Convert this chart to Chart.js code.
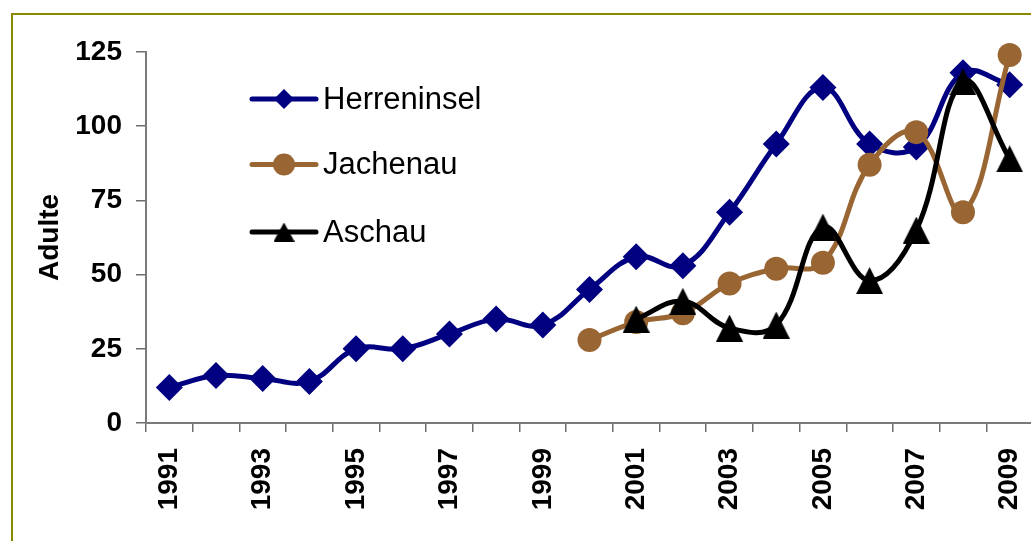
<!DOCTYPE html>
<html>
<head>
<meta charset="utf-8">
<script src="https://cdn.jsdelivr.net/npm/chart.js@4/dist/chart.umd.min.js"></script>
<style>
  html, body { margin: 0; padding: 0; background: #fff; overflow: hidden; }
  #wrap { position: relative; width: 1040px; height: 541px; }
  #frame { position: absolute; left: 11px; top: 13px; width: 2000px; height: 2000px;
           border: 2px solid #8a8a00; box-sizing: border-box; pointer-events: none; }
  canvas { position: absolute; left: 0; top: 0; }
</style>
</head>
<body>
<div id="wrap">
  <div id="frame"></div>
  <canvas id="c" width="1040" height="541"></canvas>
</div>
<script>
// Years on the category axis
const years = ['1991','1992','1993','1994','1995','1996','1997','1998','1999','2000',
               '2001','2002','2003','2004','2005','2006','2007','2008','2009'];

// Adult counts per site (null = not surveyed)
const herreninsel = [12, 16, 15, 14, 25, 25, 30, 35, 33, 45, 56, 53, 71, 94, 113, 94, 93, 118, 114];
const jachenau    = [null, null, null, null, null, null, null, null, null, 28, 34, 37, 47, 52, 54, 87, 98, 71, 124];
const aschau      = [null, null, null, null, null, null, null, null, null, null, 35, 41, 32, 33, 66, 48, 65, 115, 89];

const yTicks = [0, 25, 50, 75, 100, 125];

const FONT = '"Liberation Sans", Arial, sans-serif';

// Upright triangle marker, centred on its bounding box
function triangleMarker(w, h) {
  const c = document.createElement('canvas');
  c.width = w; c.height = h;
  const g = c.getContext('2d');
  g.fillStyle = '#000';
  g.beginPath();
  g.moveTo(w / 2, 0);
  g.lineTo(w, h);
  g.lineTo(0, h);
  g.closePath();
  g.fill();
  return c;
}
const triBig = triangleMarker(27, 27);
const triSmall = triangleMarker(21, 19);

// Legend drawn inside the plot: a short line with the marker on it, then the name
const insideLegend = {
  id: 'insideLegend',
  afterDatasetsDraw(chart) {
    const ctx = chart.ctx;
    const rows = [99, 164.5, 232];
    const x0 = 252, x1 = 316, xm = 284;
    chart.data.datasets.forEach((ds, i) => {
      const y = rows[i];
      ctx.save();
      ctx.strokeStyle = ds.borderColor;
      ctx.lineWidth = 5;
      ctx.lineCap = 'round';
      ctx.beginPath();
      ctx.moveTo(x0, y);
      ctx.lineTo(x1, y);
      ctx.stroke();
      ctx.fillStyle = ds.pointBackgroundColor;
      if (ds.legendMarker === 'diamond') {
        ctx.beginPath();
        ctx.moveTo(xm - 10, y);
        ctx.lineTo(xm, y - 10);
        ctx.lineTo(xm + 10, y);
        ctx.lineTo(xm, y + 10);
        ctx.closePath();
        ctx.fill();
      } else if (ds.legendMarker === 'circle') {
        ctx.beginPath();
        ctx.arc(xm, y, 11, 0, Math.PI * 2);
        ctx.fill();
      } else {
        ctx.drawImage(triSmall, xm - triSmall.width / 2, y - triSmall.height / 2);
      }
      ctx.fillStyle = '#000';
      ctx.font = '31px ' + FONT;
      ctx.textBaseline = 'middle';
      ctx.textAlign = 'left';
      ctx.fillText(ds.label, 323, y + 1);
      ctx.restore();
    });
  }
};

new Chart(document.getElementById('c'), {
  type: 'line',
  data: {
    labels: years,
    datasets: [
      {
        label: 'Herreninsel',
        data: herreninsel,
        borderColor: '#000080',
        backgroundColor: '#000080',
        pointBackgroundColor: '#000080',
        pointBorderWidth: 0,
        pointStyle: 'rectRot',
        pointRadius: 13.5,
        borderWidth: 5,
        tension: 0.4,
        clip: false,
        order: 3,
        legendMarker: 'diamond'
      },
      {
        label: 'Jachenau',
        data: jachenau,
        borderColor: '#996633',
        backgroundColor: '#996633',
        pointBackgroundColor: '#996633',
        pointBorderWidth: 0,
        pointStyle: 'circle',
        pointRadius: 12,
        borderWidth: 5,
        tension: 0.4,
        clip: false,
        order: 2,
        legendMarker: 'circle'
      },
      {
        label: 'Aschau',
        data: aschau,
        borderColor: '#000000',
        backgroundColor: '#000000',
        pointBackgroundColor: '#000000',
        pointBorderWidth: 0,
        pointStyle: triBig,
        pointRadius: 14,
        borderWidth: 5,
        tension: 0.4,
        clip: false,
        order: 1,
        legendMarker: 'triangle'
      }
    ]
  },
  options: {
    responsive: false,
    animation: false,
    events: [],
    layout: { autoPadding: false, padding: { left: 0, top: 52, right: 7, bottom: 0 } },
    plugins: {
      legend: { display: false },
      tooltip: { enabled: false }
    },
    scales: {
      x: {
        type: 'category',
        offset: true,
        grid: {
          offset: true,
          drawOnChartArea: false,
          drawTicks: true,
          tickLength: 9,
          color: '#6e6e6e',
          lineWidth: 1.5
        },
        border: { display: true, color: '#7a7a7a', width: 2 },
        ticks: {
          autoSkip: false,
          maxRotation: 90,
          minRotation: 90,
          padding: 16,
          color: '#000',
          font: { family: FONT, size: 28, weight: 'bold' },
          callback: (v, i) => (i % 2 === 0 ? years[i] : '')
        },
        afterFit: (s) => {
          s.height = 118;
          s.paddingLeft = 0;
          s.paddingRight = 0;
        }
      },
      y: {
        min: 0,
        max: 125,
        afterBuildTicks: (s) => { s.ticks = yTicks.map(v => ({ value: v })); },
        grid: {
          drawOnChartArea: false,
          drawTicks: true,
          tickLength: 10,
          color: '#6e6e6e',
          lineWidth: 1.5
        },
        border: { display: true, color: '#7a7a7a', width: 2 },
        ticks: {
          padding: 14,
          color: '#000',
          font: { family: FONT, size: 28, weight: 'bold' }
        },
        title: {
          display: true,
          text: 'Adulte',
          color: '#000',
          font: { family: FONT, size: 28, weight: 'bold' },
          padding: { top: 33, bottom: 0 }
        },
        afterFit: (s) => {
          s.width = 146;
          s.paddingTop = 0;
          s.paddingBottom = 0;
        }
      }
    }
  },
  plugins: [insideLegend]
});
</script>
</body>
</html>
